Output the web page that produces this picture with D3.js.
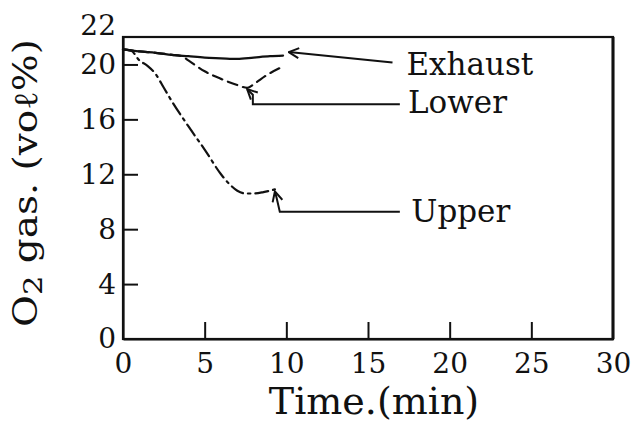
<!DOCTYPE html>
<html>
<head>
<meta charset="utf-8">
<script src="https://cdn.jsdelivr.net/npm/d3@7"></script>
<style>
  html, body { margin: 0; padding: 0; background: #fff; }
  svg { display: block; }
  text { font-family: "DejaVu Serif", "Liberation Serif", serif; fill: #111; }
</style>
</head>
<body>
<svg id="chart" width="634" height="422"></svg>
<script>
// Time axis (min) and O2 concentration (vol%) for the three sampling points
const exhaustTime  = [0, 1, 2, 3, 4, 5, 6, 7, 8, 9, 9.8];
const exhaustO2    = [21.1, 20.95, 20.85, 20.7, 20.6, 20.5, 20.45, 20.4, 20.5, 20.6, 20.65];

const lowerTime    = [0, 1, 2, 3, 3.6, 4, 5, 6, 7, 7.6, 8.1, 8.7, 9.7];
const lowerO2      = [21.1, 20.95, 20.85, 20.7, 20.6, 20.3, 19.5, 18.95, 18.5, 18.3, 18.65, 19.15, 19.8];

const upperTime    = [0, 0.5, 1, 1.5, 2, 2.5, 3, 4, 5, 6, 6.5, 7, 7.5, 8, 8.6, 9.3];
const upperO2      = [21.1, 21.0, 20.3, 19.9, 19.3, 18.3, 17.3, 15.5, 13.8, 12.0, 11.3, 10.8, 10.6, 10.6, 10.7, 10.9];

const xTicks = [0, 5, 10, 15, 20, 25, 30];
const yTicks = [0, 4, 8, 12, 16, 20, 22];

// Callout labels: leader path in (min, vol%) and label anchor
const seriesNames   = ["Exhaust", "Lower", "Upper"];
const leaderPaths   = [
  [[16.5, 20.15], [10.15, 20.9]],
  [[16.95, 17.1], [7.95, 17.1], [7.95, 17.8], [7.6, 18.2]],
  [[16.95, 9.27], [9.6, 9.27], [9.4, 10.3], [9.3, 10.75]]
];
const labelAnchors  = [[17.35, 19.2], [17.45, 16.46], [17.65, 8.52]];

const svg = d3.select("#chart");
const margin = { left: 123, top: 37, right: 20, bottom: 83 };
const W = 634, H = 422;

const x = d3.scaleLinear().domain([0, 30]).range([margin.left, W - margin.right - 1]);
const y = d3.scaleLinear().domain([0, 22]).range([H - margin.bottom, margin.top]);

// frame
svg.append("rect")
  .attr("x", x(0)).attr("y", y(22))
  .attr("width", x(30) - x(0)).attr("height", y(0) - y(22))
  .attr("fill", "none").attr("stroke", "#111").attr("stroke-width", 2.2);
svg.append("line")
  .attr("x1", x(30)).attr("x2", x(30)).attr("y1", y(22)).attr("y2", y(0))
  .attr("stroke", "#111").attr("stroke-width", 3);

// axes with inward ticks
const xAxis = d3.axisBottom(x).tickValues(xTicks).tickFormat(d3.format("d"))
  .tickSizeInner(-17).tickSizeOuter(0).tickPadding(14);
const gx = svg.append("g").attr("transform", `translate(0,${y(0)})`).call(xAxis);
gx.select(".domain").attr("stroke", "#111").attr("stroke-width", 2.2);
gx.selectAll(".tick line").attr("stroke", "#111").attr("stroke-width", 2)
  .filter(d => d === 0 || d === 30).remove();
gx.selectAll(".tick text").attr("font-size", 28).attr("font-family", "DejaVu Serif").attr("fill", "#111");

const yAxis = d3.axisLeft(y).tickValues(yTicks).tickFormat(d3.format("d"))
  .tickSizeInner(-15).tickSizeOuter(0).tickPadding(7);
const gy = svg.append("g").attr("transform", `translate(${x(0)},0)`).call(yAxis);
gy.select(".domain").attr("stroke", "#111").attr("stroke-width", 2.2);
gy.selectAll(".tick line").attr("stroke", "#111").attr("stroke-width", 2)
  .filter(d => d === 0 || d === 22).remove();
gy.selectAll(".tick text").attr("font-size", 28).attr("font-family", "DejaVu Serif").attr("fill", "#111")
  .attr("dy", d => d === 22 ? "-0.1em" : "0.32em");

// axis titles
svg.append("text")
  .attr("x", (x(0) + x(30)) / 2 + 6).attr("y", 414)
  .attr("text-anchor", "middle").attr("font-size", 38)
  .text("Time.(min)");

const yTitle = svg.append("text")
  .attr("transform", "translate(37,327) rotate(-90)")
  .attr("font-size", 33)
  .attr("textLength", 288).attr("lengthAdjust", "spacingAndGlyphs");
yTitle.append("tspan").text("O");
yTitle.append("tspan").attr("font-size", 26).attr("dy", 5).text("2");
yTitle.append("tspan").attr("dy", -5).text(" gas. (voℓ%)");

// series
const line = d3.line().x(d => x(d[0])).y(d => y(d[1])).curve(d3.curveMonotoneX);
const series = [
  { t: exhaustTime, v: exhaustO2, dash: null },
  { t: lowerTime,   v: lowerO2,   dash: "10,6" },
  { t: upperTime,   v: upperO2,   dash: "13,5,2.5,5" }
];
series.forEach(s => {
  svg.append("path")
    .datum(d3.zip(s.t, s.v))
    .attr("d", line)
    .attr("fill", "none")
    .attr("stroke", "#111")
    .attr("stroke-width", 2.2)
    .attr("stroke-linecap", "round")
    .attr("stroke-dasharray", s.dash);
});

// callouts: open arrowheads pointing at the curves
svg.append("defs").append("marker")
  .attr("id", "arrow").attr("viewBox", "0 0 12 12")
  .attr("refX", 11).attr("refY", 6)
  .attr("markerWidth", 12).attr("markerHeight", 12)
  .attr("markerUnits", "userSpaceOnUse")
  .attr("orient", "auto")
  .append("path").attr("d", "M1,1 L11,6 L1,11")
  .attr("fill", "none").attr("stroke", "#111").attr("stroke-width", 2);

const leader = d3.line().x(d => x(d[0])).y(d => y(d[1]));
leaderPaths.forEach((p, i) => {
  svg.append("path")
    .attr("d", leader(p))
    .attr("fill", "none").attr("stroke", "#111").attr("stroke-width", 2)
    .attr("marker-end", "url(#arrow)");
  svg.append("text")
    .attr("x", x(labelAnchors[i][0])).attr("y", y(labelAnchors[i][1]))
    .attr("font-size", 31)
    .text(seriesNames[i]);
});
</script>
</body>
</html>
